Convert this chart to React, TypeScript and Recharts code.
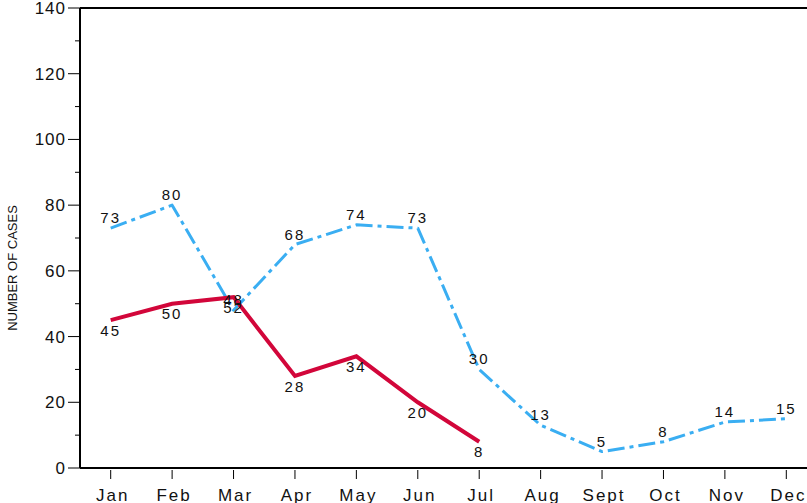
import { LineChart, Line, XAxis, YAxis, LabelList, ReferenceLine, Label } from "recharts";

// monthly case counts
const months = ["Jan", "Feb", "Mar", "Apr", "May", "Jun", "Jul", "Aug", "Sept", "Oct", "Nov", "Dec"];
const casesBlue = [73, 80, 48, 68, 74, 73, 30, 13, 5, 8, 14, 15];
const casesRed = [45, 50, 52, 28, 34, 20, 8, null, null, null, null, null];
const yTicks = [0, 10, 20, 30, 40, 50, 60, 70, 80, 90, 100, 110, 120, 130, 140];

const BLUE = "#3AAEF2";
const RED = "#D2063A";
const FONT = "Arial, 'Liberation Sans', sans-serif";

const data = months.map((m, i) => ({ month: m, blue: casesBlue[i], red: casesRed[i] }));

const YTick = ({ x, y, payload }: any) => {
  const major = payload.value % 20 === 0;
  return (
    <g>
      <line x1={x - (major ? 12 : 5)} x2={x} y1={y} y2={y} stroke="#000" strokeWidth={1} />
      {major && (
        <text x={x - 14} y={y} dy={6} textAnchor="end" fontSize={17} fontFamily={FONT} fill="#111" style={{ letterSpacing: 1 }}>
          {payload.value}
        </text>
      )}
    </g>
  );
};

const XTick = ({ x, y, payload }: any) => (
  <g>
    <line x1={x} x2={x} y1={y + 2} y2={y + 11} stroke="#000" strokeWidth={1} />
    <text x={x + 2} y={y + 33} textAnchor="middle" fontSize={17} fontFamily={FONT} fill="#111" style={{ letterSpacing: 2 }}>
      {payload.value}
    </text>
  </g>
);

export default function App() {
  return (
    <div style={{ position: "absolute", left: 0, top: 0, width: 807, height: 503, overflow: "hidden", background: "#fff" }}>
      <LineChart width={830} height={503} data={data} margin={{ top: 8, right: 13, bottom: 0, left: 0 }}>
        <XAxis
          dataKey="month"
          height={35}
          padding={{ left: 30.7, right: 30.7 }}
          tickSize={0}
          tickMargin={0}
          tickLine={false}
          tick={<XTick />}
          axisLine={{ stroke: "#000", strokeWidth: 2 }}
          interval={0}
        />
        <YAxis
          width={80}
          domain={[0, 140]}
          ticks={yTicks}
          interval={0}
          tickSize={0}
          tickMargin={0}
          tickLine={false}
          tick={<YTick />}
          axisLine={{ stroke: "#000", strokeWidth: 2 }}
        >
          <Label
            value="NUMBER OF CASES"
            angle={-90}
            position="insideLeft"
            dx={7}
            dy={30}
            fontSize={13}
            fontFamily={FONT}
            fill="#111"
            style={{ textAnchor: "middle" }}
          />
        </YAxis>
        <ReferenceLine y={140} stroke="#000" strokeWidth={2} />
        <Line
          type="linear"
          dataKey="blue"
          stroke={BLUE}
          strokeWidth={3}
          strokeDasharray="17 5 4 5"
          strokeLinejoin="round"
          dot={false}
          isAnimationActive={false}
        >
          <LabelList dataKey="blue" position="top" offset={5} fontSize={15} fontFamily={FONT} fill="#111" style={{ letterSpacing: 2 }} />
        </Line>
        <Line
          type="linear"
          dataKey="red"
          stroke={RED}
          strokeWidth={4}
          dot={false}
          connectNulls={false}
          isAnimationActive={false}
        >
          <LabelList dataKey="red" position="bottom" offset={5} fontSize={15} fontFamily={FONT} fill="#111" style={{ letterSpacing: 2 }} />
        </Line>
      </LineChart>
    </div>
  );
}
